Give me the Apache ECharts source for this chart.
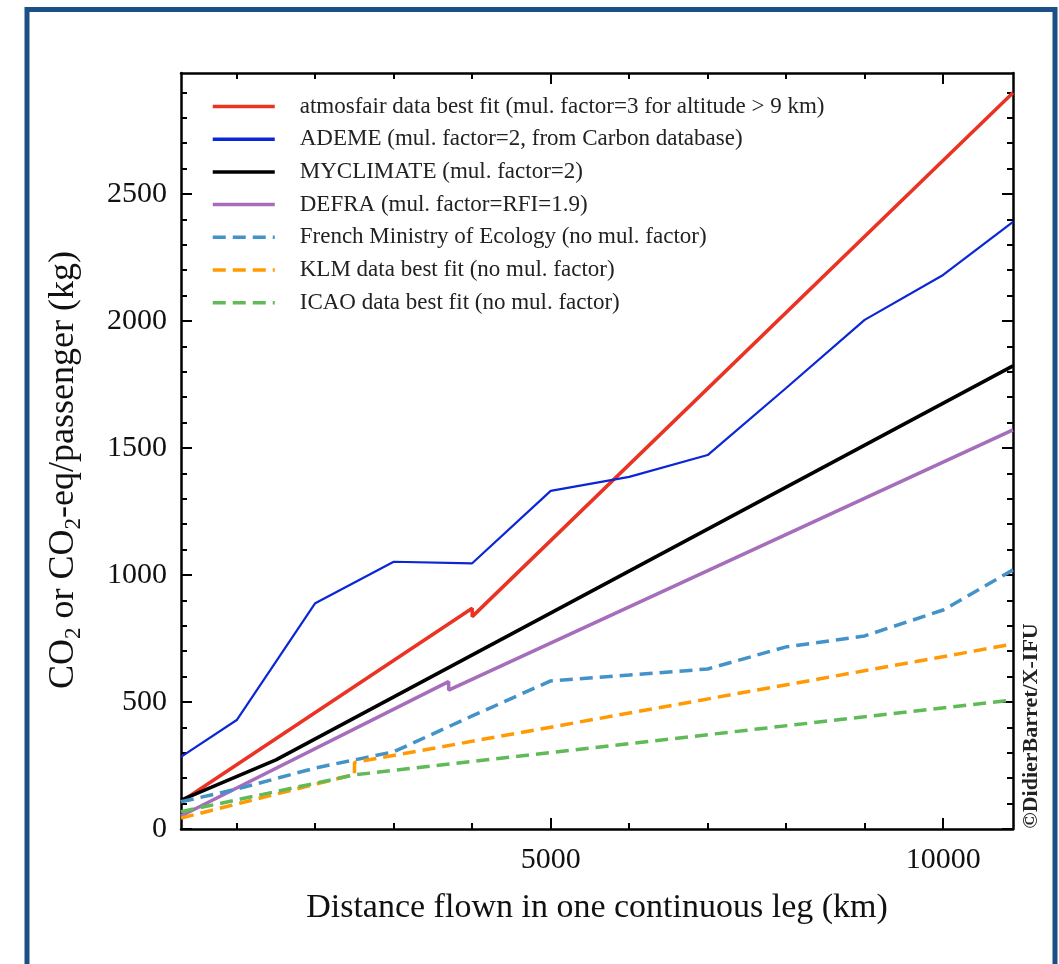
<!DOCTYPE html>
<html>
<head>
<meta charset="utf-8">
<title>CO2 per passenger vs distance</title>
<script src="https://cdn.jsdelivr.net/npm/echarts@6/dist/echarts.min.js"></script>
<style>
  html, body { margin: 0; padding: 0; background: #fff; }
  #chart { width: 1059px; height: 964px; }
</style>
</head>
<body>
<div id="chart"></div>
<script>
// data (distance in km, CO2 in kg)
const distAtmosfair = [290, 4000, 4000, 10890]
const co2Atmosfair = [107, 869, 836, 2898]
const distAdeme = [290, 1000, 2000, 3000, 4000, 5000, 6000, 7000, 8000, 9000, 10000, 10890]
const co2Ademe = [284, 429, 889, 1052, 1046, 1331, 1386, 1472, 1736, 2004, 2181, 2390]
const distMyclimate = [290, 1500, 10890]
const co2Myclimate = [114, 272, 1823]
const distDefra = [290, 3700, 3700, 10890]
const co2Defra = [51, 580, 547, 1571]
const distFrench = [290, 1000, 2000, 3000, 4000, 5000, 6000, 7000, 8000, 9000, 10000, 10890]
const co2French = [107, 157, 240, 304, 445, 583, 606, 630, 717, 760, 862, 1020]
const distKlm = [290, 2500, 2500, 10890]
const co2Klm = [43, 215, 262, 728]
const distIcao = [290, 2500, 10890]
const co2Icao = [68, 213, 508]

const seriesNames = [
  'atmosfair data best fit (mul. factor=3 for altitude > 9 km)',
  'ADEME (mul. factor=2, from Carbon database)',
  'MYCLIMATE (mul. factor=2)',
  'DEFRA (mul. factor=RFI=1.9)',
  'French Ministry of Ecology (no mul. factor)',
  'KLM data best fit (no mul. factor)',
  'ICAO data best fit (no mul. factor)'
]

// ticks
const xMajorTicks = [5000, 10000]
const xMinorTicks = [1000, 2000, 3000, 4000, 6000, 7000, 8000, 9000]
const yMajorTicks = [0, 500, 1000, 1500, 2000, 2500]
const yMinorTicks = [100, 200, 300, 400, 600, 700, 800, 900, 1100, 1200, 1300, 1400,
  1600, 1700, 1800, 1900, 2100, 2200, 2300, 2400, 2600, 2700, 2800, 2900]

const X_MIN = 290
const X_MAX = 10890
const Y_MIN = 0
const Y_MAX = 2976

const SERIF = '"Liberation Serif", "DejaVu Serif", serif'
const DASH = [13, 7]

const zip = (xs, ys) => xs.map((x, i) => [x, ys[i]])

// one axis of the box frame, either the labelled one or a tick-only copy
const frameAxis = (kind, position, ticks, len, withLine, withLabels) => ({
  type: 'value',
  position,
  min: kind === 'x' ? X_MIN : Y_MIN,
  max: kind === 'x' ? X_MAX : Y_MAX,
  splitLine: { show: false },
  axisLine: { show: withLine, onZero: false, lineStyle: { color: '#000', width: 2.5 } },
  axisTick: {
    show: true,
    inside: true,
    length: len,
    customValues: ticks,
    lineStyle: { color: '#000', width: 2 }
  },
  axisLabel: {
    show: withLabels,
    customValues: ticks,
    inside: false,
    margin: kind === 'x' ? 16 : 14,
    color: '#111',
    fontFamily: SERIF,
    fontSize: 30,
    formatter: v => String(v)
  }
})

const lineSeries = (name, xs, ys, color, width, dashed) => ({
  name,
  type: 'line',
  xAxisIndex: 0,
  yAxisIndex: 0,
  data: zip(xs, ys),
  symbol: 'none',
  showSymbol: false,
  animation: false,
  lineStyle: { color, width, type: dashed ? DASH : 'solid' },
  itemStyle: { color },
  emphasis: { disabled: true }
})

const chart = echarts.init(document.getElementById('chart'))

const xBottom = frameAxis('x', 'bottom', xMajorTicks, 11, true, true)
xBottom.name = 'Distance flown in one continuous leg (km)'
xBottom.nameLocation = 'middle'
xBottom.nameGap = 62
xBottom.nameTextStyle = { fontFamily: SERIF, fontSize: 34, color: '#111' }

chart.setOption({
  backgroundColor: '#fff',
  animation: false,
  grid: { left: 181, right: 46, top: 73, bottom: 135, containLabel: false },
  legend: {
    orient: 'vertical',
    left: 211,
    top: 95,
    padding: 0,
    itemWidth: 62,
    itemHeight: 14,
    itemGap: 9.7,
    data: seriesNames,
    itemStyle: { opacity: 0 },
    lineStyle: { width: 3.5 },
    textStyle: {
      fontFamily: SERIF,
      fontSize: 23,
      color: '#222',
      lineHeight: 22,
      padding: [0, 0, 0, 20]
    }
  },
  xAxis: [
    xBottom,
    frameAxis('x', 'bottom', xMinorTicks, 6, false, false),
    frameAxis('x', 'top', xMajorTicks, 11, true, false),
    frameAxis('x', 'top', xMinorTicks, 6, false, false)
  ],
  yAxis: [
    frameAxis('y', 'left', yMajorTicks, 11, true, true),
    frameAxis('y', 'left', yMinorTicks, 6, false, false),
    frameAxis('y', 'right', yMajorTicks, 11, true, false),
    frameAxis('y', 'right', yMinorTicks, 6, false, false)
  ],
  series: [
    lineSeries(seriesNames[0], distAtmosfair, co2Atmosfair, '#ea3323', 3.5, false),
    lineSeries(seriesNames[1], distAdeme, co2Ademe, '#0b26d6', 2.2, false),
    lineSeries(seriesNames[2], distMyclimate, co2Myclimate, '#000000', 3.5, false),
    lineSeries(seriesNames[3], distDefra, co2Defra, '#a66dbb', 3.5, false),
    lineSeries(seriesNames[4], distFrench, co2French, '#4392c8', 3.5, true),
    lineSeries(seriesNames[5], distKlm, co2Klm, '#ff9a05', 3.5, true),
    lineSeries(seriesNames[6], distIcao, co2Icao, '#5fba57', 3.5, true)
  ],
  graphic: [
    {
      type: 'rect',
      silent: true,
      shape: { x: 27, y: 9.5, width: 1028, height: 1000 },
      style: { fill: null, stroke: '#1b4f86', lineWidth: 5 }
    },
    {
      type: 'text',
      silent: true,
      x: 64,
      y: 470,
      rotation: Math.PI / 2,
      style: {
        text: 'CO{s|2} or CO{s|2}-eq/passenger (kg)',
        fontFamily: SERIF,
        fontSize: 36,
        lineHeight: 42,
        fill: '#111',
        align: 'center',
        verticalAlign: 'middle',
        rich: {
          s: { fontFamily: SERIF, fontSize: 23, lineHeight: 23, verticalAlign: 'bottom', fill: '#111' }
        }
      }
    },
    {
      type: 'text',
      silent: true,
      x: 1031,
      y: 726,
      rotation: Math.PI / 2,
      style: {
        text: '©DidierBarret/X-IFU',
        fontFamily: SERIF,
        fontSize: 22,
        fontWeight: 'bold',
        fill: '#222',
        align: 'center',
        verticalAlign: 'middle'
      }
    }
  ]
})
</script>
</body>
</html>
